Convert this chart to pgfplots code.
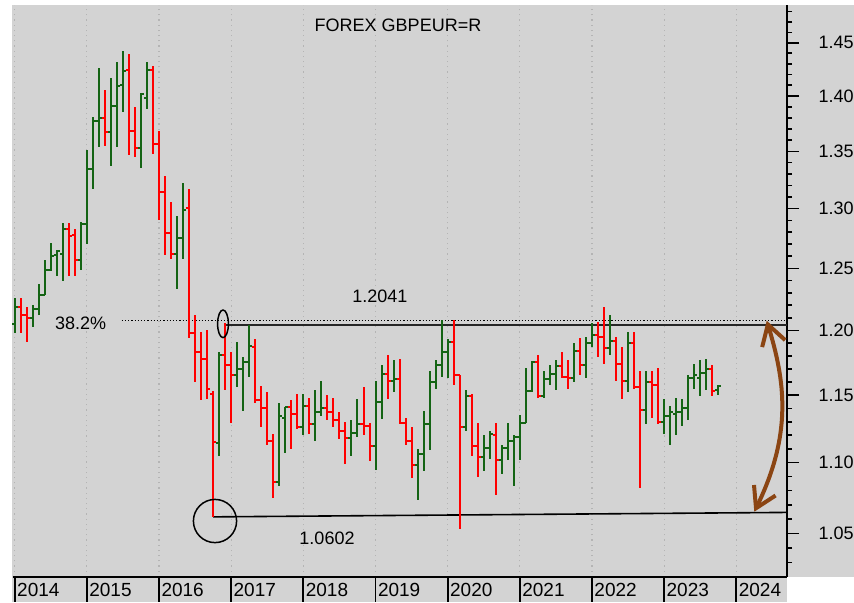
\documentclass[border=0pt]{standalone}
\usepackage{fontspec}
\setmainfont{Liberation Sans}
\usepackage{pgfplots}
\pgfplotsset{compat=1.18}
\usepackage{pgfplotstable}
\usetikzlibrary{arrows.meta}
\definecolor{bgc}{RGB}{211,211,211}
\definecolor{gridc}{RGB}{180,180,180}
\definecolor{upc}{RGB}{20,100,20}
\definecolor{dnc}{RGB}{255,0,0}
\definecolor{arrc}{RGB}{139,69,19}

\pgfplotstableread{
m o h l c
0 1.205 1.226 1.198 1.219
3 1.210 1.220 1.203 1.217
4 1.217 1.237 1.212 1.228
5 1.228 1.257 1.228 1.249
6 1.249 1.271 1.248 1.260
7 1.261 1.265 1.244 1.264
8 1.262 1.288 1.240 1.283
11 1.257 1.289 1.249 1.287
12 1.287 1.351 1.270 1.334
13 1.334 1.381 1.317 1.377
14 1.377 1.426 1.354 1.380
16 1.367 1.417 1.337 1.391
17 1.391 1.432 1.354 1.409
18 1.410 1.442 1.385 1.423
21 1.353 1.403 1.335 1.402
22 1.398 1.432 1.388 1.424
27 1.262 1.294 1.233 1.275
28 1.275 1.322 1.258 1.299
34 1.114 1.183 1.105 1.181
37 1.165 1.191 1.156 1.170
38 1.170 1.179 1.138 1.175
39 1.175 1.204 1.164 1.188
44 1.086 1.144 1.083 1.134
45 1.133 1.141 1.107 1.141
48 1.126 1.151 1.120 1.142
50 1.128 1.154 1.116 1.137
51 1.137 1.161 1.134 1.140
56 1.118 1.131 1.105 1.122
57 1.122 1.147 1.119 1.128
60 1.112 1.161 1.095 1.145
61 1.145 1.173 1.132 1.166
63 1.161 1.177 1.152 1.162
67 1.098 1.110 1.073 1.106
68 1.106 1.138 1.094 1.128
69 1.128 1.168 1.109 1.160
70 1.160 1.177 1.155 1.173
71 1.173 1.208 1.164 1.183
72 1.183 1.193 1.163 1.191
75 1.126 1.154 1.123 1.149
78 1.104 1.120 1.094 1.111
79 1.111 1.123 1.103 1.121
81 1.102 1.113 1.092 1.111
82 1.111 1.129 1.102 1.116
83 1.116 1.120 1.083 1.119
84 1.119 1.135 1.102 1.129
85 1.129 1.171 1.129 1.153
86 1.153 1.176 1.152 1.175
88 1.149 1.168 1.148 1.162
89 1.162 1.173 1.158 1.166
90 1.166 1.177 1.154 1.172
93 1.163 1.190 1.160 1.184
95 1.173 1.195 1.163 1.190
96 1.190 1.206 1.187 1.196
99 1.186 1.212 1.181 1.192
102 1.161 1.199 1.152 1.190
105 1.139 1.168 1.128 1.160
108 1.130 1.147 1.121 1.134
109 1.134 1.142 1.113 1.137
110 1.136 1.148 1.120 1.137
111 1.137 1.147 1.127 1.140
112 1.140 1.165 1.131 1.163
113 1.163 1.174 1.155 1.165
114 1.163 1.177 1.149 1.167
115 1.167 1.178 1.154 1.170
117 1.154 1.158 1.150 1.157
}\updata

\pgfplotstableread{
m o h l c
1 1.219 1.226 1.198 1.212
2 1.212 1.219 1.191 1.210
9 1.283 1.288 1.244 1.277
10 1.278 1.283 1.244 1.257
15 1.380 1.406 1.355 1.367
19 1.424 1.439 1.347 1.368
20 1.368 1.390 1.345 1.353
23 1.424 1.428 1.348 1.357
24 1.357 1.368 1.290 1.314
25 1.314 1.328 1.261 1.279
26 1.279 1.306 1.258 1.262
29 1.301 1.317 1.194 1.198
30 1.198 1.212 1.160 1.183
31 1.183 1.199 1.146 1.178
32 1.178 1.200 1.147 1.155
33 1.151 1.153 1.0615 1.115
35 1.181 1.206 1.154 1.173
36 1.173 1.183 1.129 1.165
40 1.187 1.193 1.144 1.146
41 1.146 1.157 1.126 1.140
42 1.140 1.152 1.113 1.116
43 1.116 1.121 1.075 1.086
46 1.141 1.146 1.110 1.136
47 1.136 1.151 1.125 1.126
49 1.142 1.148 1.121 1.128
52 1.140 1.150 1.131 1.137
53 1.137 1.148 1.126 1.131
54 1.131 1.137 1.117 1.123
55 1.123 1.130 1.099 1.118
58 1.128 1.156 1.120 1.127
59 1.127 1.129 1.101 1.112
62 1.166 1.181 1.147 1.161
64 1.162 1.178 1.128 1.129
65 1.129 1.133 1.113 1.116
66 1.116 1.126 1.089 1.098
73 1.191 1.208 1.158 1.165
74 1.165 1.165 1.053 1.126
76 1.149 1.151 1.105 1.112
77 1.112 1.129 1.090 1.104
80 1.120 1.129 1.077 1.102
87 1.175 1.181 1.148 1.149
91 1.172 1.183 1.163 1.164
92 1.164 1.177 1.155 1.163
94 1.184 1.194 1.165 1.173
97 1.196 1.207 1.179 1.195
98 1.195 1.219 1.174 1.186
100 1.192 1.195 1.161 1.174
101 1.174 1.187 1.147 1.161
103 1.190 1.199 1.155 1.156
104 1.156 1.168 1.082 1.139
106 1.160 1.168 1.133 1.158
107 1.158 1.171 1.128 1.130
116 1.170 1.173 1.149 1.153
}\downdata

\begin{document}
\begin{tikzpicture}
% background
\fill[bgc] (-0.5pt,-12.5pt) rectangle (387pt,286pt);
\fill[bgc] (387pt,0pt) rectangle (420.5pt,286pt);
% year grid lines
\foreach \k in {0,...,10} {
  \draw[gridc, line width=0.6pt, dotted] ({(0.842+36.08*\k)*1pt},0pt) -- ({(0.842+36.08*\k)*1pt},286pt);
}
\begin{axis}[
  scale only axis, width=387pt, height=286pt,
  xmin=-0.28, xmax=128.42,
  ymode=log, ymin=1.0203, ymax=1.4865,
  axis x line*=bottom, axis y line*=right,
  axis line style={-, line width=0.9pt, black},
  xtick=\empty,
  ytick={1.05,1.10,1.15,1.20,1.25,1.30,1.35,1.40,1.45},
  yticklabels={1.05,1.10,1.15,1.20,1.25,1.30,1.35,1.40,1.45},
  minor ytick={1.03,1.04,1.06,1.07,1.08,1.09,1.11,1.12,1.13,1.14,1.16,1.17,1.18,1.19,1.21,1.22,1.23,1.24,1.26,1.27,1.28,1.29,1.31,1.32,1.33,1.34,1.36,1.37,1.38,1.39,1.41,1.42,1.43,1.44,1.46,1.47,1.48},
  tick align=outside, major tick length=6pt, minor tick length=2.5pt,
  tick style={black, line width=0.8pt},
  yticklabel style={font=\fontsize{9}{11}\selectfont, xshift=6.3pt},
  clip=false,
]
% reference lines
\addplot[black, line width=0.6pt, densely dotted] coordinates {(17.8,1.2076) (128.42,1.2076)};
\addplot[black!85, line width=1.1pt] coordinates {(34.8,1.2045) (128.42,1.2045)};
\addplot[black, line width=0.8pt] coordinates {(33,1.0615) (128.42,1.0646)};
% up bars
\addplot[upc, mark=none, draw=none, error bars/.cd, y dir=both, y explicit, error mark=none,
  error bar style={draw=upc, line width=1pt}]
  table[x=m, y=c, y error plus expr={\thisrow{h}-\thisrow{c}}, y error minus expr={\thisrow{c}-\thisrow{l}}] {\updata};
\addplot[upc, mark=none, draw=none, error bars/.cd, x dir=minus, x fixed=0.5, error mark=none,
  error bar style={draw=upc, line width=1pt}]
  table[x=m, y=o] {\updata};
\addplot[upc, mark=none, draw=none, error bars/.cd, x dir=plus, x fixed=0.5, error mark=none,
  error bar style={draw=upc, line width=1pt}]
  table[x=m, y=c] {\updata};
% down bars
\addplot[dnc, mark=none, draw=none, error bars/.cd, y dir=both, y explicit, error mark=none,
  error bar style={draw=dnc, line width=1pt}]
  table[x=m, y=c, y error plus expr={\thisrow{h}-\thisrow{c}}, y error minus expr={\thisrow{c}-\thisrow{l}}] {\downdata};
\addplot[dnc, mark=none, draw=none, error bars/.cd, x dir=minus, x fixed=0.5, error mark=none,
  error bar style={draw=dnc, line width=1pt}]
  table[x=m, y=o] {\downdata};
\addplot[dnc, mark=none, draw=none, error bars/.cd, x dir=plus, x fixed=0.5, error mark=none,
  error bar style={draw=dnc, line width=1pt}]
  table[x=m, y=c] {\downdata};
\end{axis}
% bottom year band
\foreach \k/\yr in {0/2014,1/2015,2/2016,3/2017,4/2018,5/2019,6/2020,7/2021,8/2022,9/2023,10/2024} {
  \draw[black, line width=0.9pt] ({(0.842+36.08*\k)*1pt},0pt) -- ({(0.842+36.08*\k)*1pt},-12.5pt);
  \node[anchor=west, inner sep=0pt, font=\fontsize{9.5}{11}\selectfont] at ({(1.9+36.08*\k)*1pt},-6.6pt) {\yr};
}
% annotations
\node[font=\fontsize{9}{11}\selectfont] at (192.5pt,276pt) {FOREX GBPEUR=R};
\node[font=\fontsize{9}{11}\selectfont] at (183.4pt,140.6pt) {1.2041};
\node[font=\fontsize{9}{11}\selectfont] at (157pt,19.6pt) {1.0602};
\node[font=\fontsize{9}{11}\selectfont] at (33.8pt,126.9pt) {38.2\%};
\draw[black, line width=0.75pt] (101pt,28pt) circle[radius=10.8pt];
\draw[black, line width=0.75pt] (105pt,126.6pt) ellipse[x radius=2.7pt, y radius=6.9pt];
\draw[arrc, line width=2pt, line cap=round, {Straight Barb[length=10pt,width=12pt]}-{Straight Barb[length=10pt,width=12pt]}]
  (376.85pt,128.15pt) .. controls (386pt,98pt) and (389.85pt,72pt) .. (370.65pt,32.65pt);
\pgfresetboundingbox
\path[use as bounding box] (-6.5pt,-12.5pt) rectangle (420.5pt,288.5pt);
\end{tikzpicture}
\end{document}
